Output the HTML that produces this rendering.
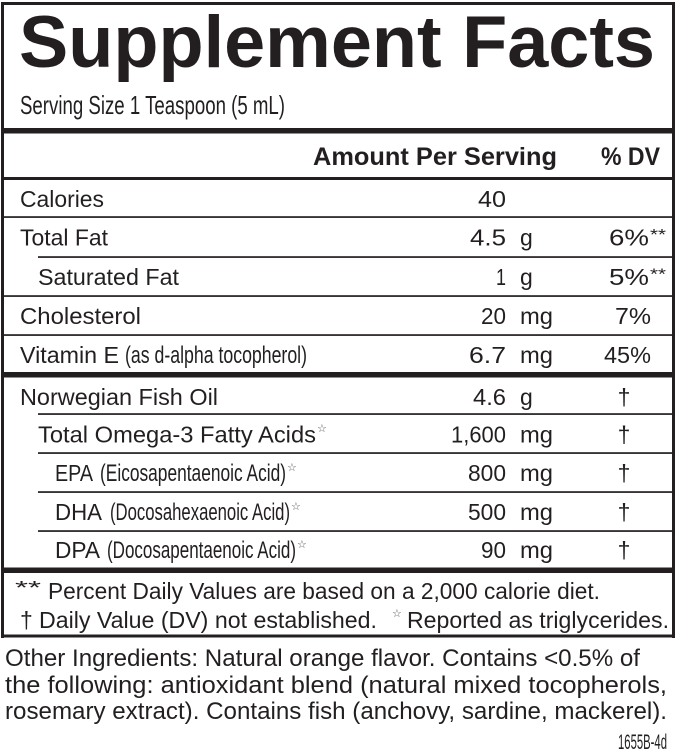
<!DOCTYPE html>
<html>
<head>
<meta charset="utf-8">
<style>
  html,body{margin:0;padding:0;background:#fff;}
  svg{display:block;}
  text{font-family:"Liberation Sans",Arial,sans-serif;fill:#231f20;}
  .b{font-size:23px;}
  .bold{font-weight:bold;}
  .cond{font-size:24px;}
  .star{font-family:"DejaVu Sans",sans-serif;font-size:11px;fill:#555;}
  .sup{font-size:16px;}
</style>
</head>
<body>
<svg width="679" height="756" viewBox="0 0 679 756" xmlns="http://www.w3.org/2000/svg">
  <rect x="0" y="0" width="679" height="756" fill="#fff"/>
  <g fill="#231f20">
    <rect x="1" y="2" width="674" height="3"/>
    <rect x="1" y="2" width="3" height="636"/>
    <rect x="672" y="2" width="3" height="636"/>
    <rect x="1" y="634.5" width="674" height="3"/>
    <rect x="1" y="128" width="674" height="5.5"/>
    <rect x="1" y="372" width="674" height="5.5"/>
    <rect x="1" y="567.5" width="674" height="5.5"/>
    <rect x="1" y="177" width="674" height="3"/>
    <rect x="1" y="216.2" width="674" height="1.7"/>
    <rect x="38" y="256.2" width="637" height="1.7"/>
    <rect x="1" y="295.2" width="674" height="1.7"/>
    <rect x="1" y="334.2" width="674" height="1.7"/>
    <rect x="38" y="413.2" width="637" height="1.7"/>
    <rect x="38" y="452.2" width="637" height="1.7"/>
    <rect x="38" y="491.2" width="637" height="1.7"/>
    <rect x="38" y="530.2" width="637" height="1.7"/>
  </g>

  <text x="19" y="67" font-size="73" font-weight="bold" textLength="636" lengthAdjust="spacingAndGlyphs">Supplement Facts</text>
  <text x="20" y="114" font-size="26" textLength="265" lengthAdjust="spacingAndGlyphs">Serving Size 1 Teaspoon (5 mL)</text>

  <text x="313" y="165" font-size="25" font-weight="bold" textLength="244" lengthAdjust="spacingAndGlyphs">Amount Per Serving</text>
  <text x="601" y="165" font-size="25" font-weight="bold" textLength="59" lengthAdjust="spacingAndGlyphs">% DV</text>

  <text class="b" x="20" y="207" textLength="84" lengthAdjust="spacingAndGlyphs">Calories</text>
  <text class="b" x="478" y="207" textLength="28" lengthAdjust="spacingAndGlyphs">40</text>

  <text class="b" x="20" y="245.5" textLength="88" lengthAdjust="spacingAndGlyphs">Total Fat</text>
  <text class="b" x="470" y="245.5" textLength="36" lengthAdjust="spacingAndGlyphs">4.5</text>
  <text class="b" x="520" y="245.5">g</text>
  <text class="b" x="609" y="245.5" textLength="40" lengthAdjust="spacingAndGlyphs">6%</text>
  <text class="sup" x="650" y="240" textLength="16" lengthAdjust="spacingAndGlyphs">**</text>

  <text class="b" x="38" y="285" textLength="141" lengthAdjust="spacingAndGlyphs">Saturated Fat</text>
  <text class="b" x="496" y="285" textLength="10" lengthAdjust="spacingAndGlyphs">1</text>
  <text class="b" x="520" y="285">g</text>
  <text class="b" x="609" y="285" textLength="40" lengthAdjust="spacingAndGlyphs">5%</text>
  <text class="sup" x="650" y="279.5" textLength="16" lengthAdjust="spacingAndGlyphs">**</text>

  <text class="b" x="20" y="324" textLength="121" lengthAdjust="spacingAndGlyphs">Cholesterol</text>
  <text class="b" x="481" y="324" textLength="25" lengthAdjust="spacingAndGlyphs">20</text>
  <text class="b" x="520" y="324" textLength="33" lengthAdjust="spacingAndGlyphs">mg</text>
  <text class="b" x="615" y="324" textLength="36" lengthAdjust="spacingAndGlyphs">7%</text>

  <text class="b" x="20" y="363" textLength="99" lengthAdjust="spacingAndGlyphs">Vitamin E</text>
  <text class="cond" x="125" y="363" textLength="182" lengthAdjust="spacingAndGlyphs">(as d-alpha tocopherol)</text>
  <text class="b" x="469" y="363" textLength="37" lengthAdjust="spacingAndGlyphs">6.7</text>
  <text class="b" x="520" y="363" textLength="33" lengthAdjust="spacingAndGlyphs">mg</text>
  <text class="b" x="604" y="363" textLength="47" lengthAdjust="spacingAndGlyphs">45%</text>

  <text class="b" x="20" y="405" textLength="198" lengthAdjust="spacingAndGlyphs">Norwegian Fish Oil</text>
  <text class="b" x="473" y="405" textLength="33" lengthAdjust="spacingAndGlyphs">4.6</text>
  <text class="b" x="520" y="405">g</text>
  <text class="b" x="624" y="405" text-anchor="middle">†</text>

  <text class="b" x="38" y="442.5" textLength="278" lengthAdjust="spacingAndGlyphs">Total Omega-3 Fatty Acids</text>
  <text class="star" x="317" y="432">☆</text>
  <text class="b" x="451" y="442.5" textLength="55" lengthAdjust="spacingAndGlyphs">1,600</text>
  <text class="b" x="520" y="442.5" textLength="33" lengthAdjust="spacingAndGlyphs">mg</text>
  <text class="b" x="624" y="442.5" text-anchor="middle">†</text>

  <text class="b" x="55" y="481" textLength="38" lengthAdjust="spacingAndGlyphs">EPA</text>
  <text class="cond" x="100" y="481" textLength="186" lengthAdjust="spacingAndGlyphs">(Eicosapentaenoic Acid)</text>
  <text class="star" x="287" y="471">☆</text>
  <text class="b" x="468" y="481" textLength="38" lengthAdjust="spacingAndGlyphs">800</text>
  <text class="b" x="520" y="481" textLength="33" lengthAdjust="spacingAndGlyphs">mg</text>
  <text class="b" x="624" y="481" text-anchor="middle">†</text>

  <text class="b" x="55" y="520" textLength="47" lengthAdjust="spacingAndGlyphs">DHA</text>
  <text class="cond" x="110" y="520" textLength="180" lengthAdjust="spacingAndGlyphs">(Docosahexaenoic Acid)</text>
  <text class="star" x="291" y="510">☆</text>
  <text class="b" x="468" y="520" textLength="38" lengthAdjust="spacingAndGlyphs">500</text>
  <text class="b" x="520" y="520" textLength="33" lengthAdjust="spacingAndGlyphs">mg</text>
  <text class="b" x="624" y="520" text-anchor="middle">†</text>

  <text class="b" x="55" y="558" textLength="45" lengthAdjust="spacingAndGlyphs">DPA</text>
  <text class="cond" x="107" y="558" textLength="189" lengthAdjust="spacingAndGlyphs">(Docosapentaenoic Acid)</text>
  <text class="star" x="297" y="548">☆</text>
  <text class="b" x="481" y="558" textLength="25" lengthAdjust="spacingAndGlyphs">90</text>
  <text class="b" x="520" y="558" textLength="33" lengthAdjust="spacingAndGlyphs">mg</text>
  <text class="b" x="624" y="558" text-anchor="middle">†</text>

  <text x="15" y="594" font-size="18" textLength="26" lengthAdjust="spacingAndGlyphs">**</text>
  <text class="b" x="48" y="599" textLength="552" lengthAdjust="spacingAndGlyphs">Percent Daily Values are based on a 2,000 calorie diet.</text>
  <text class="b" x="20" y="628">†</text>
  <text class="b" x="39" y="628" textLength="338" lengthAdjust="spacingAndGlyphs">Daily Value (DV) not established.</text>
  <text class="star" x="392" y="617">☆</text>
  <text class="b" x="407" y="628" textLength="262" lengthAdjust="spacingAndGlyphs">Reported as triglycerides.</text>

  <text x="5" y="666" font-size="24" textLength="635" lengthAdjust="spacingAndGlyphs">Other Ingredients: Natural orange flavor. Contains &lt;0.5% of</text>
  <text x="5" y="693" font-size="24" textLength="662" lengthAdjust="spacingAndGlyphs">the following: antioxidant blend (natural mixed tocopherols,</text>
  <text x="5" y="719" font-size="24" textLength="662" lengthAdjust="spacingAndGlyphs">rosemary extract). Contains fish (anchovy, sardine, mackerel).</text>

  <text x="618" y="749" font-size="21" textLength="49" lengthAdjust="spacingAndGlyphs">1655B-4d</text>
</svg>
</body>
</html>
